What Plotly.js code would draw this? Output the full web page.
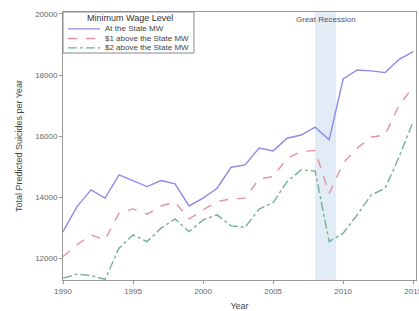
<!DOCTYPE html>
<html><head><meta charset="utf-8">
<script src="https://cdn.plot.ly/plotly-3.0.1.min.js"></script>
<style>html,body{margin:0;padding:0;background:#fff}#chart{width:419px;height:311px}</style>
</head><body><div id="chart"></div>
<script>
const years = [1990,1991,1992,1993,1994,1995,1996,1997,1998,1999,2000,2001,2002,2003,2004,2005,2006,2007,2008,2009,2010,2011,2012,2013,2014,2015];
const atStateMW = [12880,13700,14245,13975,14735,14550,14355,14550,14440,13720,13975,14300,14985,15060,15610,15520,15935,16040,16295,15880,17870,18165,18135,18080,18515,18765];
const plus1MW = [12065,12450,12775,12610,13485,13625,13450,13720,13845,13295,13590,13865,13950,13975,14605,14680,15280,15500,15530,14120,15120,15610,15965,16045,17025,17600];
const plus2MW = [11360,11490,11445,11320,12340,12775,12555,12995,13295,12880,13265,13430,13070,13025,13615,13830,14515,14900,14865,12555,12830,13430,14080,14300,15335,16480];
const seriesNames = ['At the State MW','$1 above the State MW','$2 above the State MW'];
const legendTitle = 'Minimum Wage Level';
const recession = [2008, 2009.5];
const xTicks = [1990,1995,2000,2005,2010,2015];
const yTicks = [12000,14000,16000,18000,20000];

const font = 'Liberation Sans, Arial, sans-serif';
const styles = [
  {color:'#8c8ce6', dash:'solid'},
  {color:'#e6929c', dash:'dash'},
  {color:'#72b096', dash:'dashdot'}
];
const values = [atStateMW, plus1MW, plus2MW];
const traces = values.map((v,i) => ({x: years, y: v, name: seriesNames[i], mode:'lines',
  line:{color:styles[i].color, width:1.4, dash:styles[i].dash}, showlegend:false}));

// custom compact legend (paper coords)
const shapes = [{type:'rect', xref:'x', yref:'paper', x0:recession[0], x1:recession[1], y0:0, y1:1,
    fillcolor:'#e2ecf7', line:{width:0}, layer:'below'},
  {type:'rect', xref:'paper', yref:'paper', x0:0, x1:0.371, y0:0.847, y1:1,
    fillcolor:'#fff', line:{color:'#888', width:1}}];
const annotations = [{text:'Great Recession', xref:'x', yref:'paper', x:(recession[0]+recession[1])/2, y:0.998,
    xanchor:'center', yanchor:'top', showarrow:false, font:{size:8, color:'#555'}},
  {text:legendTitle, xref:'paper', yref:'paper', x:0.19, y:0.979, xanchor:'center', yanchor:'middle',
    showarrow:false, font:{size:9, color:'#333'}}];
const rowY = [0.937, 0.901, 0.866];
seriesNames.forEach((n,i) => {
  shapes.push({type:'line', xref:'paper', yref:'paper', x0:0.014, x1:0.105, y0:rowY[i], y1:rowY[i],
    line:{color:styles[i].color, width:1.4, dash:styles[i].dash}});
  annotations.push({text:n, xref:'paper', yref:'paper', x:0.113, y:rowY[i], xanchor:'left', yanchor:'middle',
    showarrow:false, font:{size:8, color:'#444'}});
});

const layout = {
  width: 419, height: 311,
  margin: {l:63, r:3, t:12, b:31},
  paper_bgcolor:'#fff', plot_bgcolor:'#fff',
  font: {family: font, size: 8, color:'#444'},
  showlegend: false,
  xaxis: {range:[1990, 2015.2], tickvals:xTicks, ticktext:xTicks.map(String), ticklabeloverflow:'allow',
    showgrid:false, zeroline:false, showline:true, linecolor:'#999', linewidth:1, mirror:true,
    ticks:'outside', ticklen:3, tickcolor:'#999', tickfont:{size:8, color:'#666'},
    title:{text:'Year', font:{size:9, color:'#444'}, standoff:8}},
  yaxis: {range:[11300, 20060], tickvals:yTicks, ticktext:yTicks.map(String),
    showgrid:false, zeroline:false, showline:true, linecolor:'#999', linewidth:1, mirror:true,
    ticks:'outside', ticklen:3, tickcolor:'#999', tickfont:{size:8, color:'#666'},
    title:{text:'Total Predicted Suicides per Year', font:{size:9, color:'#444'}, standoff:11}},
  shapes: shapes,
  annotations: annotations
};
Plotly.newPlot('chart', traces, layout, {displayModeBar:false, staticPlot:true});
</script></body></html>
